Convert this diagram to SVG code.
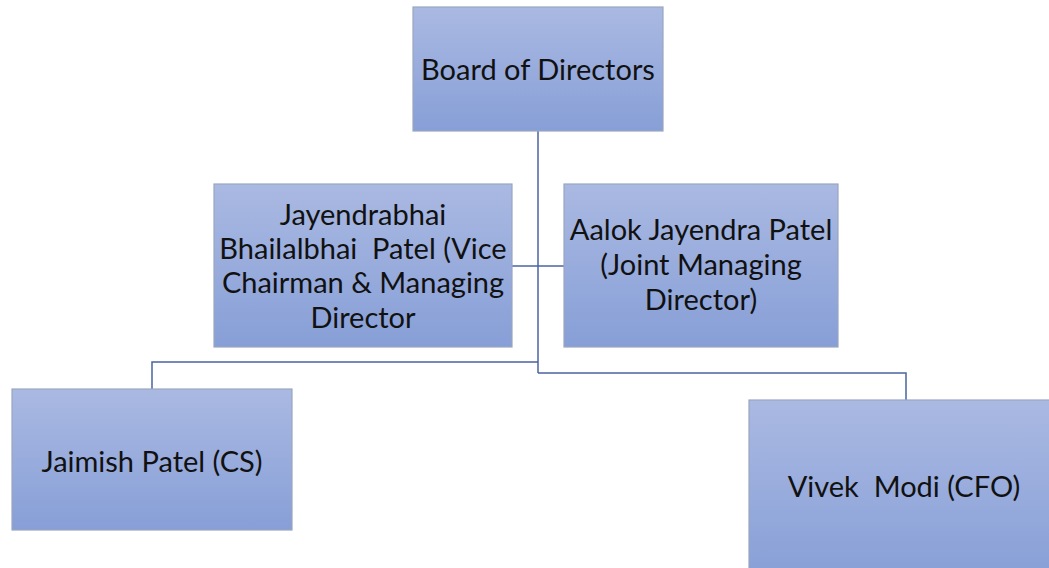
<svg xmlns="http://www.w3.org/2000/svg" width="1049" height="568" viewBox="0 0 1049 568">
<defs>
<linearGradient id="g" x1="0" y1="0" x2="0" y2="1">
<stop offset="0" stop-color="#aab9e2"/>
<stop offset="1" stop-color="#879fd7"/>
</linearGradient>
<style>
.box{fill:url(#g);stroke:#9aa6bf;stroke-width:1.2}
.t{font-family:Lato,"Open Sans",sans-serif;font-size:29px;fill:#111;text-anchor:middle}
.c{fill:none;stroke:#4a63a0;stroke-width:1.5}
</style>
</defs>
<rect width="1049" height="568" fill="#fff"/>
<g id="connectors">
<path class="c" d="M538 131V373"/>
<path class="c" d="M512 266H564"/>
<path class="c" d="M538 362H152V389"/>
<path class="c" d="M538 373H906V400"/>
</g>
<g id="board">
<rect class="box" x="413" y="7" width="250" height="124"/>
<text class="t" x="538" y="80">Board of Directors</text>
</g>
<g id="jayendra">
<rect class="box" x="214" y="184" width="298" height="163"/>
<text class="t" x="363" y="225">Jayendrabhai</text>
<text class="t" x="363" y="259" xml:space="preserve">Bhailalbhai  Patel (Vice</text>
<text class="t" x="363" y="293">Chairman &amp; Managing</text>
<text class="t" x="363" y="328">Director</text>
</g>
<g id="aalok">
<rect class="box" x="564" y="184" width="274" height="163"/>
<text class="t" x="701" y="240">Aalok Jayendra Patel</text>
<text class="t" x="701" y="275">(Joint Managing</text>
<text class="t" x="701" y="310">Director)</text>
</g>
<g id="jaimish">
<rect class="box" x="12" y="389" width="280" height="141"/>
<text class="t" x="152" y="472">Jaimish Patel (CS)</text>
</g>
<g id="vivek">
<rect class="box" x="749" y="400" width="310" height="180"/>
<text class="t" x="904" y="497" xml:space="preserve">Vivek  Modi (CFO)</text>
</g>
</svg>
